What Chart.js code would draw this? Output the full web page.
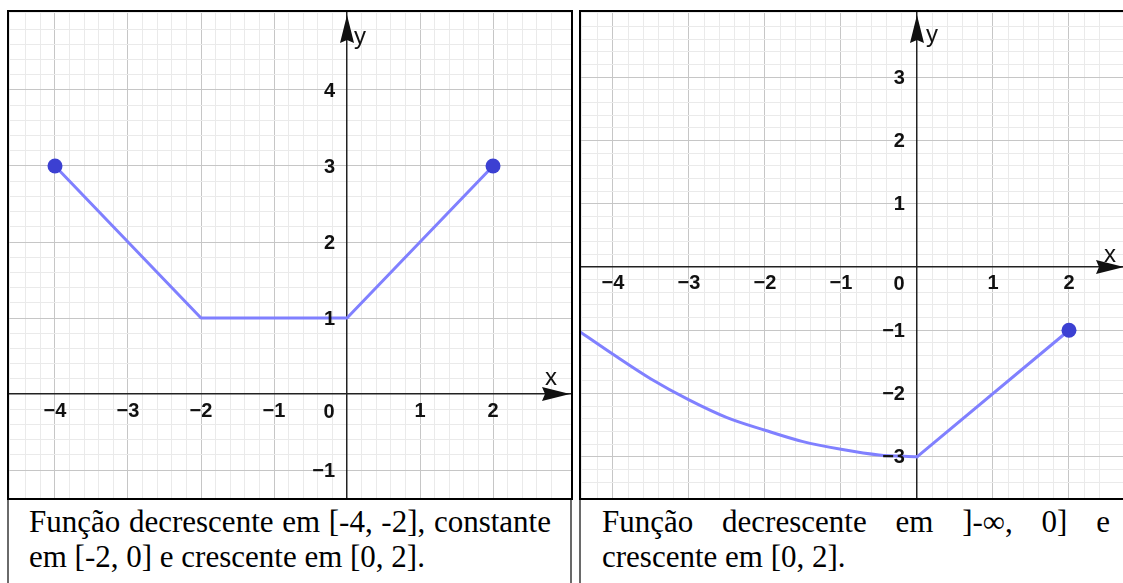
<!DOCTYPE html>
<html>
<head>
<meta charset="utf-8">
<script src="https://cdn.jsdelivr.net/npm/chart.js@4.4.1/dist/chart.umd.min.js"></script>
<style>
  body { margin: 0; background: #fff; width: 1123px; height: 583px; overflow: hidden; position: relative; }
  .graph { position: absolute; top: 10px; height: 490px; border: 2px solid #000; box-sizing: border-box; overflow: hidden; background: #fff; }
  .graph canvas { display: block; }
  .caption {
    position: absolute; top: 500px; height: 100px; box-sizing: border-box;
    border: 2px solid #6a6a6a; border-top: none;
    font-family: "Liberation Serif", "Times New Roman", "DejaVu Serif", serif;
    font-size: 31px; line-height: 35px; text-align: justify; color: #000;
  }
</style>
</head>
<body>
<div class="graph" style="left:7px;width:566px"><canvas id="g1" width="562" height="486"></canvas></div>
<div class="graph" style="left:579px;width:548px"><canvas id="g2" width="544" height="486"></canvas></div>
<div class="caption" style="left:7px;width:565px;padding:4px 19px 0 20px">Função decrescente em [-4, -2], constante em [-2, 0] e crescente em [0, 2].</div>
<div class="caption" style="left:579px;width:548px;padding:4px 15px 0 21px">Função decrescente em ]-∞, 0] e crescente em [0, 2].</div>

<script>
// gráfico 1: decrescente, constante, crescente
const leftX = [-4, -2, 0, 2];
const leftY = [3, 1, 1, 3];
const leftXTicks = [-4, -3, -2, -1, 1, 2];
const leftYTicks = [-1, 1, 2, 3, 4];

// gráfico 2: curva até 0, depois reta até (2, -1)
const curveX = [-4.5, -4, -3.5, -3, -2.5, -2, -1.5, -1, -0.5, 0];
const curveY = [-0.97, -1.38, -1.77, -2.1, -2.38, -2.58, -2.76, -2.88, -2.97, -3];
const segX = [0, 2];
const segY = [-3, -1];
const rightXTicks = [-4, -3, -2, -1, 1, 2];
const rightYTicks = [-3, -2, -1, 1, 2, 3];

const LINE = '#8080ff';
const DOT = '#3c40d2';

const pts = (xs, ys) => xs.map((x, i) => ({ x, y: ys[i] }));
const isInt = v => Math.abs(v - Math.round(v)) < 1e-6;
const fmt = v => (v < 0 ? '\u2212' : '') + Math.abs(v);

function gridScale(min, max, pos) {
  return {
    type: 'linear', min, max, position: pos,
    ticks: { display: false, stepSize: 0.2, autoSkip: false },
    grid: {
      drawTicks: false,
      lineWidth: 1,
      color: c => {
        const v = c.tick ? c.tick.value : 0.5;
        if (Math.abs(v) < 1e-6) return 'rgba(0,0,0,0)';
        return isInt(v) ? '#c6c6c6' : '#eaeaea';
      }
    },
    border: { display: true, color: '#222', width: 1.5 }
  };
}

// setas, letras dos eixos e rótulos dos ticks (estilo GeoGebra)
const geoAxes = {
  id: 'geoAxes',
  afterDraw(chart, args, o) {
    const { ctx, chartArea: a, scales: { x, y } } = chart;
    const ox = x.getPixelForValue(0), oy = y.getPixelForValue(0);
    ctx.save();
    ctx.fillStyle = '#111';

    const tip = a.right - 1;
    ctx.beginPath();
    ctx.moveTo(tip, oy);
    ctx.lineTo(tip - 28, oy - 7);
    ctx.lineTo(tip - 25, oy);
    ctx.lineTo(tip - 28, oy + 7);
    ctx.closePath();
    ctx.fill();

    const top = a.top + 3;
    ctx.beginPath();
    ctx.moveTo(ox, top);
    ctx.lineTo(ox - 7, top + 28);
    ctx.lineTo(ox, top + 25);
    ctx.lineTo(ox + 7, top + 28);
    ctx.closePath();
    ctx.fill();

    ctx.font = 'bold 20px "Liberation Sans", Arial, sans-serif';
    ctx.textBaseline = 'middle';
    ctx.textAlign = 'center';
    o.xTicks.forEach(v => ctx.fillText(fmt(v), x.getPixelForValue(v), oy + 17));
    ctx.fillText('0', ox - 18, oy + 18);
    ctx.textAlign = 'right';
    o.yTicks.forEach(v => ctx.fillText(fmt(v), ox - 12, y.getPixelForValue(v) + 1));

    ctx.font = '24px "Liberation Sans", Arial, sans-serif';
    ctx.textAlign = 'center';
    ctx.textBaseline = 'alphabetic';
    ctx.fillText('x', tip - o.xLab[0], oy - o.xLab[1]);
    ctx.fillText('y', ox + o.yLab[0], a.top + o.yLab[1]);
    ctx.restore();
  }
};

function makeChart(id, datasets, xr, yr, axOpts) {
  return new Chart(document.getElementById(id), {
    type: 'line',
    data: { datasets },
    options: {
      responsive: false,
      animation: false,
      events: [],
      layout: { padding: 0, autoPadding: false },
      scales: {
        x: gridScale(xr[0], xr[1], { y: 0 }),
        y: gridScale(yr[0], yr[1], { x: 0 })
      },
      plugins: { legend: { display: false }, tooltip: { enabled: false }, geoAxes: axOpts }
    },
    plugins: [geoAxes]
  });
}

const lineStyle = {
  borderColor: LINE, borderWidth: 3, borderCapStyle: 'round', borderJoinStyle: 'round',
  pointBackgroundColor: DOT, pointBorderWidth: 0, fill: false
};

makeChart('g1', [
  Object.assign({}, lineStyle, {
    data: pts(leftX, leftY),
    tension: 0,
    pointRadius: c => (c.dataIndex === 0 || c.dataIndex === leftX.length - 1) ? 7.5 : 0
  })
], [-4.63, 3.068], [-1.368, 5.026],
  { xTicks: leftXTicks, yTicks: leftYTicks, xLab: [19, 9], yLab: [13, 32] });

makeChart('g2', [
  Object.assign({}, lineStyle, {
    data: pts(curveX, curveY),
    cubicInterpolationMode: 'monotone',
    pointRadius: 0
  }),
  Object.assign({}, lineStyle, {
    data: pts(segX, segY),
    tension: 0,
    pointRadius: [0, 7.5]
  })
], [-4.421, 2.737], [-3.65, 4.028],
  { xTicks: rightXTicks, yTicks: rightYTicks, xLab: [14, 5], yLab: [15, 30] });
</script>
</body>
</html>
